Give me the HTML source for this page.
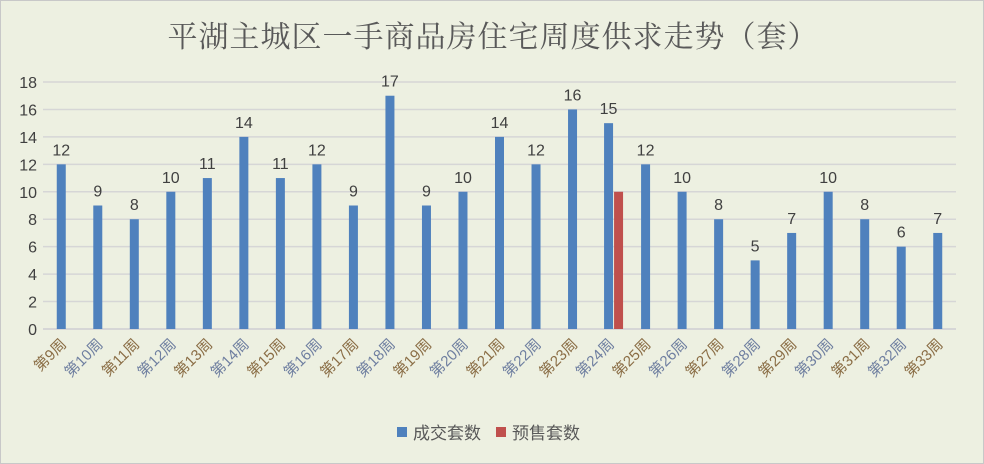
<!DOCTYPE html>
<html><head><meta charset="utf-8"><style>
body{margin:0;background:#fff}
#c{position:relative;width:982px;height:462px;border:1px solid #c8c8c8;background:#edf0e1;overflow:hidden}
svg text{font-family:"Liberation Sans","Noto Sans CJK SC",sans-serif}
</style></head><body>
<div id="c">
<svg id="s" width="982" height="462" xmlns="http://www.w3.org/2000/svg">
<text x="492" y="46" text-anchor="middle" font-size="30" fill="#595959" style="font-family:'Noto Serif CJK SC',serif;letter-spacing:1px">平湖主城区一手商品房住宅周度供求走势（套）</text>
<g id="grid"></g><g id="bars"></g><g id="labels"></g>
<g>
<rect x="396" y="426" width="10" height="10" fill="#4f81bd"/>
<text x="412" y="438" font-size="17" fill="#595959">成交套数</text>
<rect x="495" y="426" width="10" height="10" fill="#c0504d"/>
<text x="511" y="438" font-size="17" fill="#595959">预售套数</text>
</g>
</svg></div>
<script>
const categories=["第9周","第10周","第11周","第12周","第13周","第14周","第15周","第16周","第17周","第18周","第19周","第20周","第21周","第22周","第23周","第24周","第25周","第26周","第27周","第28周","第29周","第30周","第31周","第32周","第33周"];
const sold=[12,9,8,10,11,14,11,12,9,17,9,10,14,12,16,15,12,10,8,5,7,10,8,6,7];
const presale=[0,0,0,0,0,0,0,0,0,0,0,0,0,0,0,10,0,0,0,0,0,0,0,0,0];
const yTicks=[0,2,4,6,8,10,12,14,16,18];
const NS="http://www.w3.org/2000/svg";
const x0=42,x1=955,y0=328,yTop=81,yMax=18;
const bw=(x1-x0)/categories.length;
const y=v=>y0-(y0-yTop)*v/yMax;
const cx=i=>x0+bw*(i+0.5);
function mk(t,a,p){const e=document.createElementNS(NS,t);for(const k in a)e.setAttribute(k,a[k]);p.appendChild(e);return e;}
const grid=document.getElementById('grid'),bars=document.getElementById('bars'),labels=document.getElementById('labels');
yTicks.forEach(t=>{
 const l=mk('line',{x1:x0,x2:x1,y1:y(t),y2:y(t),stroke:'#d6d6d6','stroke-width':t===0?2:1.5},grid);
 
 
 const tx=mk('text',{x:36,y:y(t)+6,'text-anchor':'end','font-size':16,fill:'#404040'},grid);
 tx.textContent=t;
 
 
});
categories.forEach((c,i)=>{
 const hasP=presale[i]>0;
 const bx=hasP?cx(i)-5:cx(i)-4.5;
 const r=mk('rect',{x:bx,y:y(sold[i]),width:9,height:y0-y(sold[i]),fill:'#4f81bd'},bars);
 
 
 const t=mk('text',{x:bx+4.5,y:y(sold[i])-9,'text-anchor':'middle','font-size':16,fill:'#404040'},labels);
 t.textContent=sold[i];
 
 
 if(hasP){
  const p=mk('rect',{x:cx(i)+5,y:y(presale[i]),width:9,height:y0-y(presale[i]),fill:'#c0504d'},bars);
  
  
 }
 const xl=mk('text',{transform:`translate(${cx(i)+6},${344}) rotate(-45)`,'text-anchor':'end','font-size':15,fill:i%2?'#6f7fa0':'#8a6d45'},labels);
 xl.textContent=c;
 
 
});
</script>
</body></html>
